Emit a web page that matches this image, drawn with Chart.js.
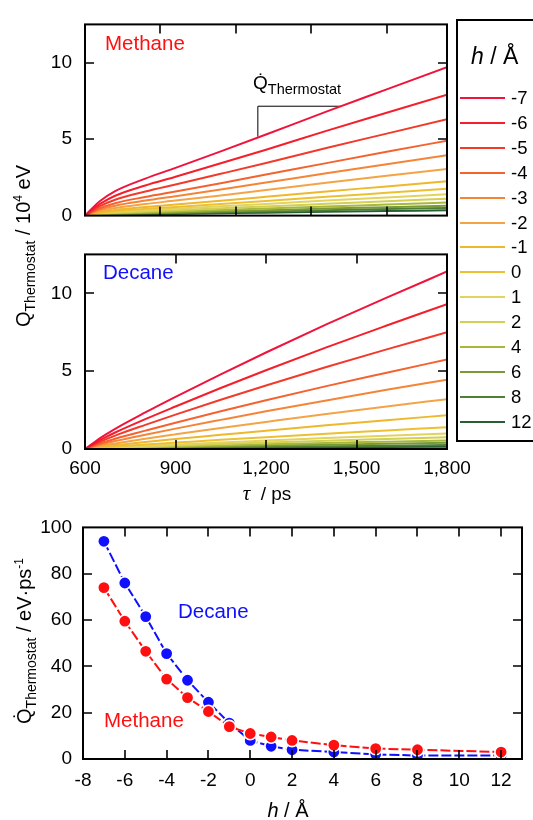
<!DOCTYPE html>
<html>
<head>
<meta charset="utf-8">
<script src="https://cdn.jsdelivr.net/npm/chart.js@4.4.1/dist/chart.umd.min.js"></script>
<style>
body { margin: 0; background: #fff; font-family: Arial, "Liberation Sans", sans-serif; color: #000; }
#page { position: relative; width: 533px; height: 820px; overflow: hidden; }
canvas { position: absolute; left: 0; }
.txt { position: absolute; white-space: nowrap; line-height: 1; }
.rot { transform: translate(-50%, -50%) rotate(-90deg); font-size: 20px; }
.rot sub { font-size: 14px; vertical-align: -5px; }
.rot sup { font-size: 12px; vertical-align: 8px; }
#legend { position: absolute; left: 456px; top: 19px; width: 100px; height: 423px; border: 2px solid #000; box-sizing: border-box; }
.leg-line { position: absolute; width: 45px; height: 2px; }
.leg-lab { position: absolute; font-size: 18.5px; line-height: 1; }
</style>
</head>
<body>
<div id="page">
  <canvas id="top" width="480" height="240" style="top:0px"></canvas>
  <canvas id="mid" width="480" height="280" style="top:230px"></canvas>
  <canvas id="bot" width="533" height="315" style="top:505px"></canvas>

  <div class="txt" style="left:105px;top:33px;font-size:20.5px;color:#ff1010">Methane</div>
  <div class="txt" style="left:103px;top:262px;font-size:20.5px;color:#1010ff">Decane</div>
  <div class="txt" style="left:253px;top:73px;font-size:19px">Q&#775;<span style="font-size:14.5px;position:relative;top:5px">Thermostat</span></div>

  <div class="txt rot" style="left:24px;top:246px">Q<sub>Thermostat</sub> / 10<sup>4</sup> eV</div>
  <div class="txt" style="left:267px;top:493px;transform:translate(-50%,-50%);font-size:19px"><span style="font-family:'Liberation Serif',serif;font-style:italic;font-size:21px">&tau;</span> &nbsp;/ ps</div>

  <div class="txt" style="left:178px;top:601px;font-size:20.5px;color:#1010ff">Decane</div>
  <div class="txt" style="left:104px;top:710px;font-size:20.5px;color:#ff1010">Methane</div>
  <div class="txt rot" style="left:25px;top:641px">Q&#775;<sub>Thermostat</sub> / eV&middot;ps<sup>-1</sup></div>
  <div class="txt" style="left:288px;top:810px;transform:translate(-50%,-50%);font-size:20px"><i>h</i> / &Aring;</div>

  <div id="legend"></div>
</div>
<script>
/* valores */
const hLabels = ['-7', '-6', '-5', '-4', '-3', '-2', '-1', '0', '1', '2', '4', '6', '8', '12']
const hValues = [-7, -6, -5, -4, -3, -2, -1, 0, 1, 2, 4, 6, 8, 12]

const tau = [600, 625, 650, 700, 800, 900, 1050, 1200, 1400, 1600, 1800]

const methaneQ = [
    [0, 0.50, 0.95, 1.60, 2.42, 3.12, 4.20, 5.30, 6.80, 8.25, 9.70],
    [0, 0.41, 0.77, 1.30, 1.97, 2.54, 3.42, 4.31, 5.54, 6.72, 7.90],
    [0, 0.33, 0.62, 1.04, 1.57, 2.03, 2.73, 3.44, 4.42, 5.36, 6.30],
    [0, 0.25, 0.48, 0.81, 1.22, 1.58, 2.12, 2.68, 3.43, 4.17, 4.90],
    [0, 0.21, 0.39, 0.65, 0.98, 1.27, 1.71, 2.16, 2.77, 3.36, 3.95],
    [0, 0.16, 0.30, 0.50, 0.76, 0.98, 1.32, 1.67, 2.14, 2.60, 3.05],
    [0, 0.12, 0.22, 0.37, 0.56, 0.72, 0.97, 1.23, 1.58, 1.91, 2.25],
    [0, 0.09, 0.17, 0.29, 0.44, 0.56, 0.76, 0.96, 1.23, 1.49, 1.75],
    [0, 0.07, 0.14, 0.23, 0.35, 0.45, 0.61, 0.76, 0.98, 1.19, 1.40],
    [0, 0.06, 0.11, 0.18, 0.27, 0.35, 0.48, 0.60, 0.77, 0.94, 1.10],
    [0, 0.04, 0.08, 0.14, 0.21, 0.27, 0.37, 0.46, 0.60, 0.72, 0.85],
    [0, 0.03, 0.06, 0.11, 0.16, 0.21, 0.28, 0.35, 0.46, 0.55, 0.65],
    [0, 0.03, 0.05, 0.08, 0.12, 0.16, 0.22, 0.27, 0.35, 0.43, 0.50],
    [0, 0.02, 0.03, 0.06, 0.09, 0.11, 0.15, 0.19, 0.25, 0.30, 0.35]
]

const decaneQ = [
    [0, 0.35, 0.70, 1.30, 2.35, 3.35, 4.80, 6.20, 8.00, 9.72, 11.40],
    [0, 0.29, 0.57, 1.06, 1.92, 2.73, 3.92, 5.06, 6.53, 7.93, 9.30],
    [0, 0.23, 0.46, 0.86, 1.55, 2.21, 3.16, 4.08, 5.27, 6.40, 7.50],
    [0, 0.18, 0.35, 0.66, 1.18, 1.69, 2.42, 3.13, 4.04, 4.90, 5.75],
    [0, 0.14, 0.27, 0.51, 0.92, 1.31, 1.87, 2.42, 3.12, 3.80, 4.45],
    [0, 0.10, 0.20, 0.36, 0.66, 0.94, 1.35, 1.74, 2.25, 2.73, 3.20],
    [0, 0.07, 0.13, 0.25, 0.45, 0.64, 0.91, 1.18, 1.52, 1.85, 2.17],
    [0, 0.04, 0.09, 0.16, 0.29, 0.41, 0.59, 0.76, 0.98, 1.19, 1.40],
    [0, 0.03, 0.06, 0.11, 0.21, 0.29, 0.42, 0.54, 0.70, 0.85, 1.00],
    [0, 0.02, 0.05, 0.09, 0.15, 0.22, 0.32, 0.41, 0.53, 0.64, 0.75],
    [0, 0.02, 0.03, 0.06, 0.11, 0.16, 0.23, 0.30, 0.39, 0.47, 0.55],
    [0, 0.01, 0.02, 0.05, 0.08, 0.12, 0.17, 0.22, 0.28, 0.34, 0.40],
    [0, 0.01, 0.02, 0.03, 0.05, 0.07, 0.11, 0.14, 0.18, 0.21, 0.25],
    [0, 0.005, 0.01, 0.02, 0.03, 0.04, 0.06, 0.08, 0.11, 0.13, 0.15]
]

/* triangulo da inclinacao (Q ponto) no painel do metano */
const slopeTau = [1173, 1173, 1445]
const slopeQ = [5.16, 7.15, 7.15]

const methaneRate = [74, 59.5, 46.5, 34.5, 26.5, 20.5, 14, 11, 9.5, 8, 6, 4.5, 4, 3]
const decaneRate = [94, 76, 61.5, 45.5, 34, 24.5, 15.5, 8, 5.5, 4, 3, 2, 1.5, 1.5]

const topTauTicks = [850, 1100, 1350, 1600]
const tauTicks = [600, 900, 1200, 1500, 1800]
const qTicks = [0, 5, 10]
const hTicks = [-8, -6, -4, -2, 0, 2, 4, 6, 8, 10, 12]
const rateTicks = [0, 20, 40, 60, 80, 100]

/* estilos */
const lineColors = ['#f0143c', '#f41f2a', '#f23a2a', '#f4622f', '#f68437', '#f4a446', '#eeb82c',
    '#ecc033', '#e2d35e', '#d2cf52', '#a8b83a', '#7a9a35', '#4f7f36', '#275f35']
const TICK = 9

Chart.defaults.font.family = 'Arial, "Liberation Sans", sans-serif'
Chart.defaults.color = '#000'

/* moldura e ticks para dentro nos quatro lados */
const frame = {
    id: 'frame',
    afterDatasetsDraw(chart) {
        const ctx = chart.ctx
        const a = chart.chartArea
        const sx = chart.scales.x
        const sy = chart.scales.y
        ctx.save()
        ctx.strokeStyle = '#000'
        ctx.lineWidth = 1.6
        ctx.beginPath()
        sx.ticks.forEach(t => {
            const px = Math.round(sx.getPixelForValue(t.value))
            if (px <= a.left + 1 || px >= a.right - 1) return
            ctx.moveTo(px, a.bottom); ctx.lineTo(px, a.bottom - TICK)
            ctx.moveTo(px, a.top); ctx.lineTo(px, a.top + TICK)
        })
        sy.ticks.forEach(t => {
            const py = Math.round(sy.getPixelForValue(t.value))
            if (py <= a.top + 1 || py >= a.bottom - 1) return
            ctx.moveTo(a.left, py); ctx.lineTo(a.left + TICK, py)
            ctx.moveTo(a.right, py); ctx.lineTo(a.right - TICK, py)
        })
        ctx.stroke()
        ctx.lineWidth = 2
        ctx.strokeRect(a.left, a.top, a.width, a.height)
        ctx.restore()
    }
}

function setTicks(list) {
    return function (scale) { scale.ticks = list.map(v => ({value: v})) }
}

function curveChart(id, curves, showX, padding, extra) {
    const datasets = curves.map((c, i) => ({
        data: tau.map((t, k) => ({x: t, y: c[k]})),
        borderColor: lineColors[i],
        borderWidth: 2,
        pointRadius: 0,
        cubicInterpolationMode: 'monotone'
    }))
    if (extra) datasets.push(extra)
    return new Chart(document.getElementById(id), {
        type: 'line',
        data: {datasets: datasets},
        options: {
            responsive: false,
            animation: false,
            events: [],
            layout: {padding: padding},
            plugins: {legend: {display: false}, tooltip: {enabled: false}},
            scales: {
                x: {
                    type: 'linear', min: 600, max: 1800,
                    afterBuildTicks: setTicks(showX ? tauTicks : topTauTicks),
                    afterFit: (s) => { s.height = showX ? 30 : 0 },
                    grid: {display: false, drawTicks: false},
                    border: {display: false},
                    ticks: {display: showX, padding: 8, font: {size: 19}, maxRotation: 0,
                        callback: (v) => v.toLocaleString('en-US')}
                },
                y: {
                    min: 0, max: 12.5,
                    afterBuildTicks: setTicks(qTicks),
                    afterFit: (s) => { s.width = 85 },
                    grid: {display: false, drawTicks: false},
                    border: {display: false},
                    ticks: {padding: 13, font: {size: 19}}
                }
            }
        },
        plugins: [frame]
    })
}

curveChart('top', methaneQ, false, {left: 0, top: 12, right: 33, bottom: 18}, {
    data: slopeTau.map((t, k) => ({x: t, y: slopeQ[k]})),
    borderColor: '#000',
    borderWidth: 1,
    pointRadius: 0,
    tension: 0
})
curveChart('mid', decaneQ, true, {left: 0, top: 8, right: 33, bottom: 31})

new Chart(document.getElementById('bot'), {
    type: 'line',
    data: {
        labels: hValues,
        datasets: [
            {
                label: 'Methane', order: 0,
                data: hValues.map((h, i) => ({x: h, y: methaneRate[i]})),
                borderColor: '#ff1010', backgroundColor: '#ff1010',
                borderWidth: 2, borderDash: [10, 3], pointRadius: 6.2, pointBorderWidth: 1.6,
                pointBorderColor: '#fff', pointBackgroundColor: '#ff1010'
            },
            {
                label: 'Decane', order: 1,
                data: hValues.map((h, i) => ({x: h, y: decaneRate[i]})),
                borderColor: '#1010ff', backgroundColor: '#1010ff',
                borderWidth: 2, borderDash: [10, 3], pointRadius: 6.2, pointBorderWidth: 1.6,
                pointBorderColor: '#fff', pointBackgroundColor: '#1010ff'
            }
        ]
    },
    options: {
        responsive: false,
        animation: false,
        events: [],
        layout: {padding: {left: 0, top: 13, right: 11, bottom: 31}},
        plugins: {legend: {display: false}, tooltip: {enabled: false}},
        scales: {
            x: {
                type: 'linear', min: -8, max: 13,
                afterBuildTicks: setTicks(hTicks),
                afterFit: (s) => { s.height = 30 },
                grid: {display: false, drawTicks: false},
                border: {display: false},
                ticks: {padding: 10, font: {size: 19}, maxRotation: 0}
            },
            y: {
                min: 0, max: 100,
                afterBuildTicks: setTicks(rateTicks),
                afterFit: (s) => { s.width = 83 },
                grid: {display: false, drawTicks: false},
                border: {display: false},
                ticks: {padding: 11, font: {size: 19}}
            }
        }
    },
    plugins: [frame]
})

/* legenda (h / Å) montada a partir dos mesmos arrays */
const legend = document.getElementById('legend')
const title = legend.appendChild(document.createElement('div'))
title.className = 'txt'
title.style.cssText = 'left:13px;top:24px;font-size:23px'
title.innerHTML = '<i>h</i> / &Aring;'
for (let i = 0; i < hLabels.length; i++) {
    const yc = 98 + i * 24.9 - 21
    const line = legend.appendChild(document.createElement('div'))
    line.className = 'leg-line'
    line.style.cssText = `left:2px;top:${yc - 1}px;background:${lineColors[i]}`
    const lab = legend.appendChild(document.createElement('div'))
    lab.className = 'leg-lab txt'
    lab.style.cssText = `left:53px;top:${yc - 9}px`
    lab.textContent = hLabels[i]
}
</script>
</body>
</html>
